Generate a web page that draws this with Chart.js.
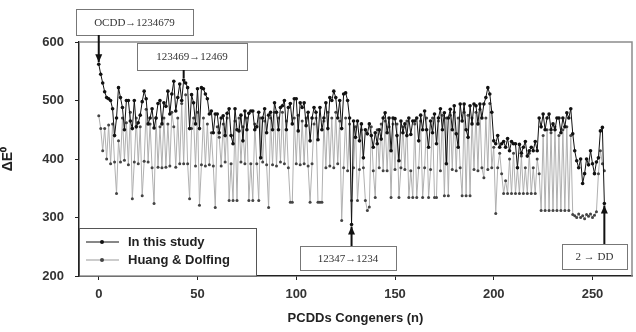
<!DOCTYPE html>
<html>
<head>
<meta charset="utf-8">
<script src="https://cdn.jsdelivr.net/npm/chart.js@4.4.0/dist/chart.umd.min.js"></script>
<style>
  html, body { margin: 0; padding: 0; background: #fff; }
</style>
</head>
<body>
<canvas id="chart" width="636" height="332"></canvas>
<script>
// values, congener index n = 0..256
var thisStudy = [
  562, 545, 530, 515, 505, 503, 500, 486, 440, 470,
  522, 505, 488, 450, 500, 500, 465, 452, 500, 455,
  462, 475, 498, 516, 503, 460, 470, 486, 453, 470,
  495, 500, 460, 496, 490, 516, 477, 511, 533, 482,
  505, 528, 500, 535, 530, 522, 452, 510, 496, 460,
  520, 452, 522, 520, 511, 503, 477, 482, 445, 477,
  477, 445, 470, 474, 440, 478, 486, 440, 426, 486,
  450, 448, 475, 431, 482, 450, 478, 482, 482, 450,
  455, 480, 402, 470, 486, 445, 475, 480, 450, 496,
  480, 450, 488, 491, 500, 450, 488, 495, 460, 503,
  503, 448, 496, 488, 496, 457, 480, 431, 470, 488,
  480, 433, 488, 450, 470, 496, 452, 505, 500, 516,
  505, 470, 500, 452, 511, 513, 500, 470, 288, 465,
  437, 465, 431, 460, 402, 450, 443, 460, 440, 420,
  445, 426, 450, 434, 470, 479, 445, 470, 414, 470,
  469, 440, 397, 465, 445, 460, 440, 470, 442, 465,
  465, 470, 431, 475, 450, 482, 450, 420, 465, 445,
  477, 426, 470, 486, 450, 479, 392, 470, 485, 450,
  491, 443, 420, 494, 465, 494, 450, 437, 491, 460,
  494, 491, 460, 494, 470, 494, 505, 522, 511, 480,
  431, 426, 440, 420, 426, 430, 420, 435, 414, 430,
  426, 426, 385, 425, 410, 420, 430, 405, 414, 420,
  414, 430, 414, 470, 455, 477, 450, 470, 477, 450,
  460, 450, 470, 470, 445, 470, 455, 479, 470, 486,
  443, 414, 397, 385, 400, 358, 375, 400, 390, 414,
  392, 375, 395, 402, 448, 454, 324
];
var huangDolfing = [
  474, 452, 414, 452, 400, 458, 392, 460, 395, 341,
  431, 395, 470, 398, 462, 390, 480, 332, 395, 470,
  392, 455, 337, 396, 485, 395, 460, 385, 324, 470,
  386, 455, 385, 470, 386, 460, 388, 480, 455, 386,
  470, 392, 495, 392, 510, 392, 332, 452, 470, 388,
  480, 321, 390, 470, 388, 460, 390, 445, 388, 317,
  455, 437, 388, 460, 395, 470, 329, 392, 329, 465,
  329, 470, 395, 455, 392, 470, 329, 392, 329, 460,
  392, 329, 470, 395, 465, 390, 317, 470, 390, 480,
  388, 470, 395, 480, 392, 465, 385, 326, 326, 470,
  392, 475, 390, 465, 392, 470, 388, 326, 392, 460,
  470, 326, 326, 326, 465, 385, 480, 388, 470, 385,
  480, 392, 465, 295, 385, 470, 380, 460, 329, 385,
  455, 329, 382, 450, 385, 329, 312, 318, 455, 380,
  334, 450, 385, 460, 380, 465, 380, 455, 334, 460,
  382, 460, 334, 385, 455, 382, 465, 334, 380, 334,
  460, 334, 385, 465, 334, 385, 470, 334, 382, 470,
  334, 334, 465, 380, 475, 337, 470, 337, 475, 382,
  480, 380, 470, 385, 337, 480, 337, 475, 337, 470,
  382, 480, 380, 485, 385, 368, 470, 382, 495, 385,
  420, 307, 385, 410, 375, 341, 363, 341, 400, 341,
  410, 341, 385, 341, 405, 341, 385, 341, 410, 341,
  385, 341, 400, 375, 312, 440, 312, 450, 312, 445,
  312, 455, 312, 440, 312, 450, 312, 455, 312, 440,
  305, 303, 300, 306, 300, 303, 298, 305, 302, 306,
  300, 304, 310, 375, 414, 392, 380
];
var congeners = thisStudy.map(function (v, i) { return i; });
var xTicks = [0, 50, 100, 150, 200, 250];
var yTicks = [200, 300, 400, 500, 600];
var seriesNames = ["In this study", "Huang & Dolfing"];
var notes = ["OCDD\u21921234679", "123469\u219212469", "12347\u21921234", "2 \u2192 DD"];
var noteAt = [0, 43, 128, 256];

function pts(arr) {
  return arr.map(function (v, i) { return { x: congeners[i], y: v }; });
}

function arrow(ctx, x0, y0, x1, y1, w, head) {
  ctx.lineWidth = w;
  ctx.beginPath(); ctx.moveTo(x0, y0); ctx.lineTo(x1, y1); ctx.stroke();
  if (head) {
    var d = y1 > y0 ? 1 : -1;
    ctx.beginPath();
    ctx.moveTo(x1, y1);
    ctx.lineTo(x1 - 3.5, y1 - d * 8);
    ctx.lineTo(x1 + 3.5, y1 - d * 8);
    ctx.closePath(); ctx.fill();
  }
}

// box, legend and notes
var decor = {
  id: "decor",
  afterDraw: function (chart) {
    var ctx = chart.ctx, a = chart.chartArea;
    var x = chart.scales.x, y = chart.scales.y;
    ctx.save();
    ctx.strokeStyle = "#8c8c8c"; ctx.lineWidth = 1.5;
    ctx.beginPath();
    ctx.moveTo(a.left, a.top); ctx.lineTo(a.right, a.top); ctx.lineTo(a.right, a.bottom);
    ctx.stroke();

    // legend
    ctx.fillStyle = "#fff";
    ctx.fillRect(a.left, 228, 177, a.bottom - 228);
    ctx.strokeStyle = "#555"; ctx.lineWidth = 1;
    ctx.strokeRect(a.left + 0.5, 228.5, 177, a.bottom - 228.5);
    var cols = [["#111", "#111"], ["#999", "#444"]];
    ctx.font = "bold 13px 'Liberation Sans', Arial, sans-serif";
    ctx.textBaseline = "middle";
    for (var i = 0; i < 2; i++) {
      var ly = 242 + i * 18;
      ctx.strokeStyle = cols[i][0];
      ctx.beginPath(); ctx.moveTo(86, ly); ctx.lineTo(119, ly); ctx.stroke();
      ctx.fillStyle = cols[i][1];
      ctx.beginPath(); ctx.arc(102, ly, 2, 0, Math.PI * 2); ctx.fill();
      ctx.fillStyle = "#222";
      ctx.fillText(seriesNames[i], 128, ly);
    }

    // notes
    var boxes = [[76, 9, 117, 26], [137, 43, 110, 27], [300, 246, 96, 24], [562, 244, 65, 25]];
    ctx.font = "11px 'Liberation Serif', 'Times New Roman', serif";
    ctx.textAlign = "center";
    for (var k = 0; k < notes.length; k++) {
      var b = boxes[k];
      ctx.fillStyle = "#fff";
      ctx.fillRect(b[0], b[1], b[2], b[3]);
      ctx.strokeStyle = "#777"; ctx.lineWidth = 1;
      ctx.strokeRect(b[0] + 0.5, b[1] + 0.5, b[2], b[3]);
      ctx.fillStyle = "#333";
      ctx.fillText(notes[k], b[0] + b[2] / 2, b[1] + b[3] / 2 + 1);
      var n = noteAt[k];
      var px = x.getPixelForValue(n), py = y.getPixelForValue(thisStudy[n]);
      ctx.strokeStyle = "#111"; ctx.fillStyle = "#111";
      if (b[1] + b[3] < py) arrow(ctx, px, b[1] + b[3], px, py - 2, 2, k !== 1);
      else arrow(ctx, px, b[1], px, py + 2, 2, true);
    }
    ctx.restore();
  }
};

var font = { family: "'Liberation Sans', Arial, sans-serif", size: 13, weight: "bold" };

new Chart(document.getElementById("chart"), {
  type: "line",
  data: {
    datasets: [{
      label: seriesNames[0],
      data: pts(thisStudy),
      borderColor: "#111",
      borderWidth: 1,
      pointRadius: 1.8,
      pointBackgroundColor: "#111",
      pointBorderWidth: 0
    }, {
      label: seriesNames[1],
      data: pts(huangDolfing),
      borderColor: "#b0b0b0",
      borderWidth: 1,
      pointRadius: 1.5,
      pointBackgroundColor: "#444",
      pointBorderWidth: 0
    }]
  },
  options: {
    responsive: false,
    animation: false,
    layout: { padding: { top: 42, right: 4, left: 0, bottom: 0 } },
    plugins: { legend: { display: false }, tooltip: { enabled: false } },
    scales: {
      x: {
        type: "linear", min: -10, max: 270,
        afterBuildTicks: function (s) { s.ticks = xTicks.map(function (v) { return { value: v }; }); },
        afterFit: function (s) { s.height = 56; },
        grid: { drawOnChartArea: false, tickLength: 4, color: "#222" },
        border: { color: "#222", width: 1.5 },
        ticks: { color: "#333", font: font, padding: 7 },
        title: { display: true, text: "PCDDs Congeners (n)", color: "#222", font: font, padding: { top: 4, bottom: 6 } }
      },
      y: {
        type: "linear", min: 200, max: 600,
        afterBuildTicks: function (s) { s.ticks = yTicks.map(function (v) { return { value: v }; }); },
        afterFit: function (s) { s.width = 79; },
        grid: { drawOnChartArea: false, tickLength: 4, color: "#222" },
        border: { color: "#222", width: 1.5 },
        ticks: { color: "#333", font: font, padding: 11 },
        title: { display: true, text: "\u0394E\u2070", color: "#222", font: { family: "'Liberation Sans', Arial, sans-serif", size: 14, weight: "bold" }, padding: { top: 0, bottom: 0 } }
      }
    }
  },
  plugins: [decor]
});
</script>
</body>
</html>
